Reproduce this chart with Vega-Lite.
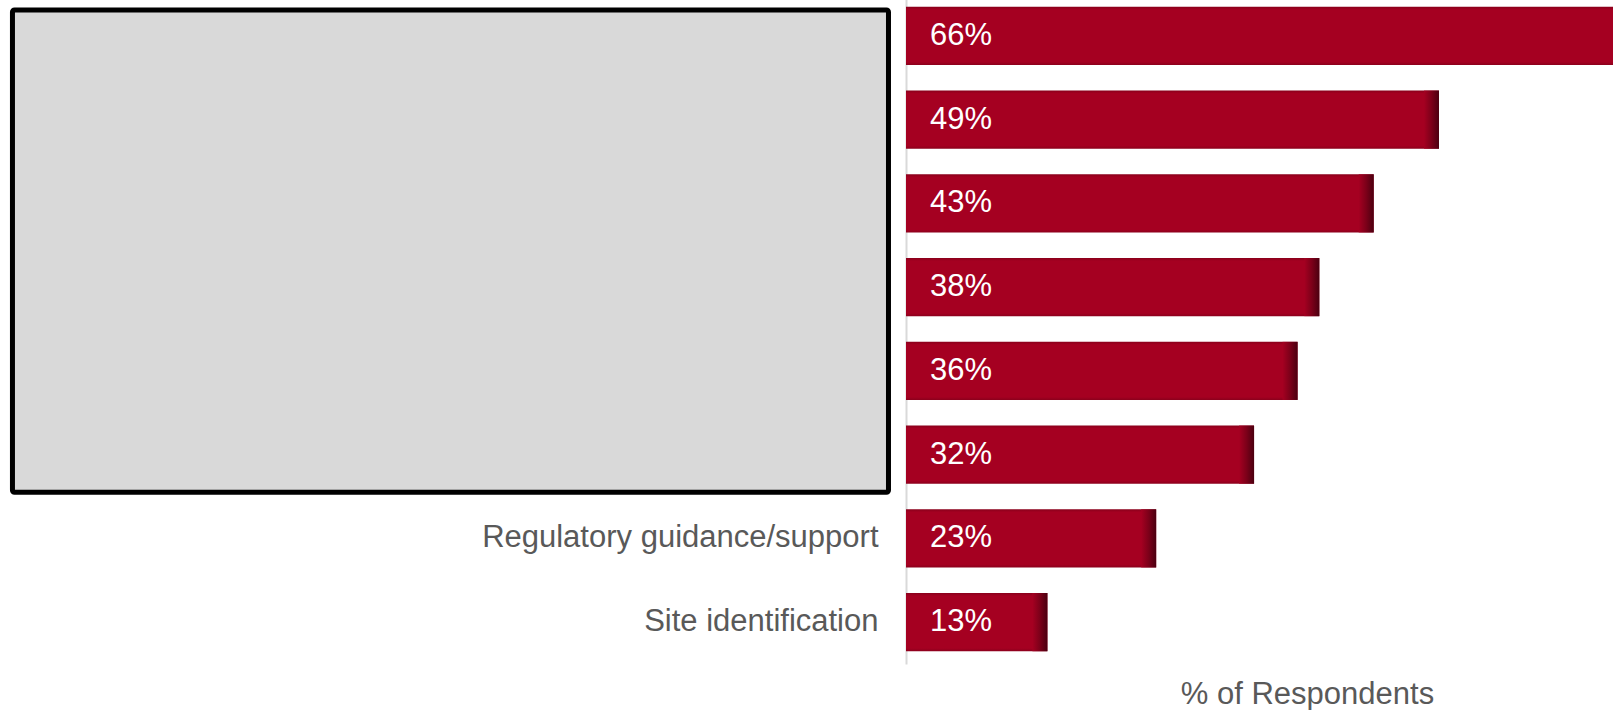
{
  "$schema": "https://vega.github.io/schema/vega-lite/v6.json",
  "width": 707,
  "height": 670,
  "autosize": {"type": "none"},
  "padding": {"left": 906, "top": -6, "right": 0, "bottom": 46},
  "background": "white",
  "config": {"view": {"stroke": null}, "font": "Liberation Sans"},
  "datasets": {
    "bars": [
      {"item": "Redacted 1", "pct": 0.66},
      {"item": "Redacted 2", "pct": 0.49},
      {"item": "Redacted 3", "pct": 0.43},
      {"item": "Redacted 4", "pct": 0.38},
      {"item": "Redacted 5", "pct": 0.36},
      {"item": "Redacted 6", "pct": 0.32},
      {"item": "Regulatory guidance/support", "pct": 0.23},
      {"item": "Site identification", "pct": 0.13}
    ],
    "redaction": [
      {"x": -0.8215, "x2": -0.0161, "row": 0.19, "row2": 5.95}
    ]
  },
  "layer": [
    {
      "layer": [
        {
          "data": {"name": "bars"},
          "mark": {
            "type": "bar",
            "color": {
              "gradient": "linear", "x1": 0, "x2": 0, "y1": 0, "y2": 1,
              "stops": [
                {"offset": 0, "color": "#8a001b"},
                {"offset": 0.05, "color": "#a50021"},
                {"offset": 0.95, "color": "#a50021"},
                {"offset": 1, "color": "#8c001c"}
              ]
            }
          },
          "encoding": {
            "y": {
              "field": "item", "type": "nominal", "sort": null,
              "scale": {"paddingInner": 0.307, "paddingOuter": 0.1535},
              "axis": {
                "title": null, "ticks": false, "grid": false,
                "domain": true, "domainColor": "#d9d9d9", "domainWidth": 2,
                "labelFont": "Liberation Sans", "labelFontSize": 31,
                "labelColor": "#595959", "labelPadding": 28, "labelLimit": 0,
                "labelBaseline": "middle",
                "labelExpr": "indexof(datum.label, 'Redacted') === 0 ? '' : datum.label"
              }
            },
            "x": {
              "field": "pct", "type": "quantitative",
              "scale": {"domain": [0, 0.65], "nice": false, "zero": true},
              "axis": {
                "title": "% of Respondents", "labels": false, "ticks": false,
                "domain": false, "grid": false,
                "titleFont": "Liberation Sans", "titleFontSize": 31,
                "titleColor": "#595959", "titleFontWeight": "normal",
                "titleX": 401, "titleY": 39, "titleAlign": "center",
                "titleBaseline": "alphabetic"
              }
            }
          }
        },
        {
          "data": {"name": "bars"},
          "transform": [{"filter": "datum.pct < 0.6"}],
          "mark": {
            "type": "rect", "width": 15, "xOffset": -7.5,
            "color": {
              "gradient": "linear", "x1": 0, "x2": 1, "y1": 0, "y2": 0,
              "stops": [
                {"offset": 0, "color": "#a50021"},
                {"offset": 0.5, "color": "#7c0019"},
                {"offset": 1, "color": "#4b0010"}
              ]
            }
          },
          "encoding": {
            "y": {"field": "item", "type": "nominal", "sort": null},
            "x": {"field": "pct", "type": "quantitative"}
          }
        },
        {
          "data": {"name": "bars"},
          "mark": {
            "type": "text", "align": "left", "baseline": "middle",
            "dx": 24, "fontSize": 31, "color": "white",
            "font": "Liberation Sans"
          },
          "encoding": {
            "y": {"field": "item", "type": "nominal", "sort": null},
            "x": {"datum": 0, "type": "quantitative"},
            "text": {"field": "pct", "type": "quantitative", "format": ".0%"}
          }
        }
      ]
    },
    {
      "data": {"name": "redaction"},
      "mark": {
        "type": "rect", "fill": "#d9d9d9", "stroke": "black",
        "strokeWidth": 5, "cornerRadius": 2
      },
      "encoding": {
        "x": {"field": "x", "type": "quantitative", "scale": {"domain": [0, 0.65], "nice": false}},
        "x2": {"field": "x2"},
        "y": {
          "field": "row", "type": "quantitative",
          "scale": {"domain": [0, 8], "reverse": true, "nice": false, "zero": false},
          "axis": null
        },
        "y2": {"field": "row2"}
      }
    }
  ],
  "resolve": {"scale": {"y": "independent"}}
}
